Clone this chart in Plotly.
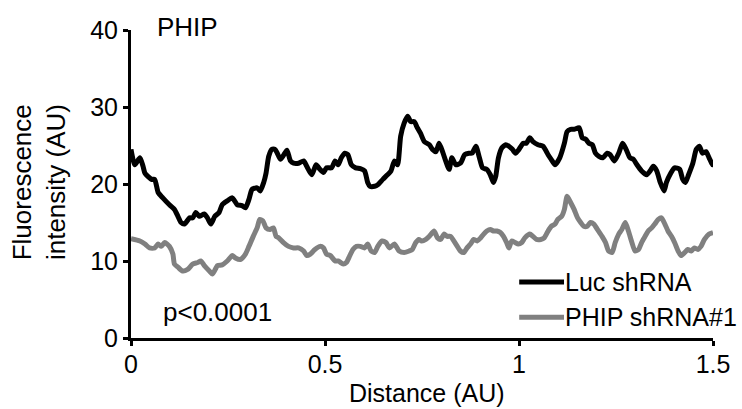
import plotly.graph_objects as go

# Fluorescence intensity profiles along the distance axis
luc_x = [0.0, 0.010, 0.023, 0.031, 0.036, 0.053, 0.061, 0.070, 0.082, 0.099,
         0.112, 0.121, 0.129, 0.138, 0.151, 0.159, 0.167, 0.176, 0.189, 0.197,
         0.206, 0.216, 0.227, 0.235, 0.248, 0.261, 0.274, 0.286, 0.295, 0.304,
         0.312, 0.325, 0.333, 0.342, 0.348, 0.355, 0.363, 0.371,
         0.377, 0.385, 0.394, 0.402, 0.411, 0.419, 0.432, 0.445, 0.453, 0.466,
         0.477, 0.487, 0.496, 0.504, 0.517, 0.526, 0.534, 0.542, 0.551, 0.559,
         0.568, 0.579, 0.591, 0.602, 0.610, 0.616, 0.628, 0.636, 0.649, 0.661,
         0.670, 0.679, 0.687, 0.695, 0.704, 0.713, 0.721, 0.730, 0.738, 0.746,
         0.756, 0.769, 0.777, 0.786, 0.794, 0.803, 0.811, 0.820, 0.827, 0.837,
         0.849, 0.860, 0.871, 0.879, 0.889, 0.898, 0.906, 0.917, 0.926, 0.934,
         0.940, 0.947, 0.956, 0.966, 0.974, 0.983, 0.991, 1.000, 1.011, 1.019,
         1.028, 1.036, 1.049, 1.062, 1.075, 1.083, 1.093, 1.105, 1.117, 1.124,
         1.133, 1.142, 1.155, 1.163, 1.172, 1.180, 1.189, 1.197, 1.206, 1.216,
         1.227, 1.235, 1.246, 1.257, 1.267, 1.276, 1.286, 1.295, 1.304, 1.316,
         1.329, 1.338, 1.346, 1.355, 1.364, 1.374, 1.380, 1.391, 1.401, 1.414,
         1.422, 1.429, 1.437, 1.448, 1.457, 1.465, 1.473, 1.482, 1.490, 1.499,
         1.500]
luc_y = [24.5, 22.5, 23.4, 22.3, 21.4, 20.6, 20.6, 18.9, 18.2, 17.3,
         16.7, 15.8, 15.0, 14.8, 15.6, 15.6, 16.3, 15.8, 16.1, 15.6,
         14.8, 15.8, 16.3, 17.3, 17.8, 18.2, 17.3, 17.2, 16.9, 18.0,
         19.3, 19.5, 19.1, 20.2, 21.4, 23.6, 24.5, 24.5,
         24.0, 23.2, 23.8, 24.4, 23.0, 22.7, 22.7, 23.0, 22.3, 21.2,
         22.5, 21.9, 21.5, 22.1, 22.1, 23.0, 22.5, 23.4, 24.0, 23.8,
         22.5, 22.1, 22.0, 21.7, 20.2, 19.7, 19.7, 19.9, 20.6, 21.2,
         21.7, 23.0, 22.5, 26.2, 27.9, 28.8, 28.1, 28.1, 27.3, 26.6,
         25.5, 25.1, 24.5, 24.2, 25.3, 24.2, 23.0, 21.9, 23.4, 22.5,
         22.7, 23.8, 24.0, 24.0, 24.9, 23.4, 22.1, 21.9, 21.2, 20.2,
         21.0, 23.4, 24.7, 25.1, 24.9, 24.5, 24.0, 24.5, 25.3, 25.3,
         26.0, 25.5, 25.1, 24.9, 23.8, 23.2, 22.5, 23.4, 25.3, 26.8,
         27.1, 27.1, 27.3, 26.0, 25.8, 25.3, 25.1, 24.0, 23.6, 23.4,
         24.0, 23.8, 23.0, 24.0, 25.3, 24.5, 23.4, 23.2, 22.5, 21.7,
         21.2, 21.7, 22.3, 21.7, 20.2, 19.1, 20.2, 21.4, 22.1, 21.9,
         20.6, 20.2, 21.2, 22.7, 24.5, 24.9, 24.0, 24.2, 23.4, 22.5,
         23.0]

phip_x = [0.0, 0.023, 0.036, 0.048, 0.061, 0.070, 0.078, 0.087, 0.099, 0.108,
          0.112, 0.121, 0.133, 0.146, 0.159, 0.172, 0.180, 0.189, 0.202, 0.210,
          0.223, 0.235, 0.248, 0.261, 0.269, 0.282, 0.295, 0.304, 0.315, 0.325,
          0.332, 0.340, 0.348, 0.359, 0.367, 0.374,
          0.381, 0.393, 0.406, 0.419, 0.432, 0.445, 0.453, 0.462, 0.474, 0.487,
          0.496, 0.504, 0.514, 0.526, 0.534, 0.547, 0.555, 0.564, 0.572, 0.581,
          0.591, 0.602, 0.610, 0.619, 0.628, 0.636, 0.647, 0.657, 0.666, 0.679,
          0.691, 0.704, 0.717, 0.725, 0.734, 0.742, 0.749,
          0.760, 0.769, 0.781, 0.790, 0.798, 0.807, 0.815, 0.824, 0.832, 0.841,
          0.849, 0.858, 0.866, 0.875, 0.883, 0.892, 0.901, 0.909, 0.917, 0.926,
          0.934, 0.943, 0.952, 0.960, 0.968, 0.974, 0.981, 0.990, 0.998, 1.007,
          1.015, 1.028, 1.036, 1.045, 1.056, 1.065, 1.075, 1.083, 1.093, 1.100,
          1.110, 1.117, 1.124,
          1.133, 1.142, 1.151, 1.159, 1.167, 1.176, 1.184, 1.193, 1.202, 1.214,
          1.223, 1.231, 1.240, 1.248, 1.257, 1.265, 1.274, 1.282, 1.291, 1.299,
          1.308, 1.316, 1.325, 1.333, 1.342, 1.350, 1.359, 1.367, 1.376, 1.384,
          1.393, 1.401, 1.410, 1.418, 1.427, 1.435, 1.444, 1.452, 1.461, 1.469,
          1.478, 1.490, 1.500]
phip_y = [12.9, 12.6, 12.2, 11.7, 11.7, 12.2, 11.9, 12.4, 11.9, 10.9,
          9.6, 9.2, 8.7, 8.9, 9.6, 9.8, 10.0, 9.4, 8.7, 8.3,
          9.4, 9.5, 10.0, 10.7, 10.4, 10.2, 10.9, 11.9, 13.2, 14.3,
          15.4, 15.2, 14.3, 14.1, 14.3, 13.2,
          13.0, 12.4, 11.9, 11.7, 11.7, 11.3, 10.7, 10.9, 11.5, 11.9,
          11.7, 10.9, 10.7, 10.0, 10.0, 9.6, 9.8, 10.7, 11.5, 11.9,
          11.9, 11.7, 12.2, 11.3, 11.1, 11.9, 12.6, 12.4, 11.7, 12.2,
          11.3, 11.1, 11.3, 11.5, 12.4, 12.8, 12.6,
          12.8, 13.2, 13.9, 13.0, 12.8, 13.5, 13.2, 13.2, 12.6, 11.9,
          11.3, 11.1, 11.7, 12.2, 12.8, 12.6, 13.0, 13.5, 13.9, 14.1,
          13.9, 13.9, 13.7, 13.2, 12.4, 11.7, 12.6, 12.4, 12.2, 12.4,
          13.0, 13.5, 13.2, 12.8, 12.8, 13.0, 13.9, 14.5, 14.8, 15.4,
          15.8, 16.7, 18.4,
          17.6, 16.7, 15.6, 15.0, 14.5, 14.5, 15.0, 14.8, 14.1, 13.2,
          12.4, 11.3, 11.1, 12.4, 13.5, 14.1, 15.0, 13.9, 12.4, 11.3,
          11.5, 12.4, 13.2, 13.9, 14.3, 14.8, 15.4, 15.6, 14.8, 13.9,
          13.2, 12.4, 11.3, 10.7, 11.1, 11.5, 11.3, 11.7, 11.5, 11.9,
          12.8, 13.5, 13.7]

series_names = ["Luc shRNA", "PHIP shRNA#1"]
series_colors = ["#000000", "#808080"]

x_tick_vals = [0, 0.5, 1, 1.5]
x_tick_text = ["0", "0.5", "1", "1.5"]
y_tick_vals = [0, 10, 20, 30, 40]
y_tick_text = ["0", "10", "20", "30", "40"]

FONT = "Liberation Sans, Arial, sans-serif"
FS = 25
FS_BIG = 26

fig = go.Figure()
for xs, ys, name, color in zip([luc_x, phip_x], [luc_y, phip_y], series_names, series_colors):
    fig.add_trace(go.Scatter(x=xs, y=ys, mode="lines", name=name,
                             line=dict(color=color, width=5, shape="spline", smoothing=0.6),
                             showlegend=False))

axis_common = dict(showline=True, linecolor="black", linewidth=3,
                   ticks="outside", ticklen=5, tickwidth=3, tickcolor="black",
                   showgrid=False, zeroline=False,
                   tickfont=dict(family=FONT, size=FS, color="black"))

fig.update_xaxes(range=[0, 1.5], tickvals=x_tick_vals, ticktext=x_tick_text,
                 ticklabelstandoff=-3, **axis_common)
fig.update_yaxes(range=[0, 40], tickvals=y_tick_vals, ticktext=y_tick_text, **axis_common)

annotations = [
    dict(text="PHIP", x=0.041, y=1.01, xanchor="left", yanchor="middle", size=FS_BIG),
    dict(text="p<0.0001", x=0.052, y=0.084, xanchor="left", yanchor="middle", size=FS_BIG),
    dict(text="Fluorescence", x=-0.187, y=0.506, xanchor="center", yanchor="middle",
         textangle=-90, size=FS_BIG),
    dict(text="intensity (AU)", x=-0.129, y=0.506, xanchor="center", yanchor="middle",
         textangle=-90, size=FS_BIG),
    dict(text="Distance (AU)", x=0.508, y=-0.177, xanchor="center", yanchor="middle", size=FS),
]

# Hand-placed legend: line sample plus label for each series
legend_rows_y = [0.182, 0.067]
shapes = []
for name, color, ly in zip(series_names, series_colors, legend_rows_y):
    shapes.append(dict(type="line", xref="paper", yref="paper",
                       x0=0.667, x1=0.744, y0=ly, y1=ly,
                       line=dict(color=color, width=5)))
    annotations.append(dict(text=name, x=0.743, y=ly, xanchor="left", yanchor="middle", size=FS))

for a in annotations:
    size = a.pop("size")
    a.update(xref="paper", yref="paper", showarrow=False,
             font=dict(family=FONT, size=size, color="black"))

fig.update_layout(
    width=742, height=409,
    margin=dict(l=131, r=23, t=30, b=71),
    plot_bgcolor="white", paper_bgcolor="white",
    annotations=annotations, shapes=shapes,
    showlegend=False,
)

fig.write_html("out.html")
